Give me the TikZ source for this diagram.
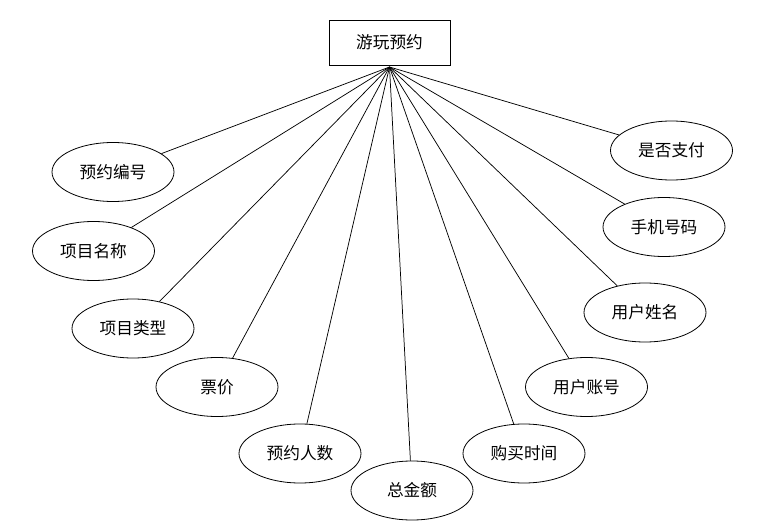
\documentclass[tikz,border=0pt]{standalone}
\usepackage{fontspec}
\setmainfont{Noto Sans CJK SC}
\usetikzlibrary{shapes.geometric}

\begin{document}
\begin{tikzpicture}[
  x=0.75pt, y=-0.75pt,
  entity/.style={draw, rectangle, minimum width=121*0.75pt, minimum height=45*0.75pt,
                 inner sep=0pt, line width=0.6pt, font=\fontsize{12.5}{15}\selectfont},
  attr/.style={draw, ellipse, minimum width=122*0.75pt, minimum height=59*0.75pt,
               inner sep=0pt, line width=0.6pt, font=\fontsize{12.5}{15}\selectfont},
  link/.style={line width=0.55pt, color=black},
]
\useasboundingbox (0,0) rectangle (772,528);

% === Entity ===
\node[entity] (visit) at (389.5,42.5) {游玩预约};
\coordinate (hub) at (389.5,67);

% === Attributes (left side) ===
\node[attr] (orderno)  at (113,172)   {预约编号};
\node[attr] (itemname) at (93.5,251)  {项目名称};
\node[attr] (itemtype) at (133,328.5) {项目类型};
\node[attr] (price)    at (217,387)   {票价};
\node[attr] (people)   at (300,453.5) {预约人数};

% === Attribute (bottom) ===
\node[attr] (total)    at (412,490.5) {总金额};

% === Attributes (right side) ===
\node[attr] (buytime)  at (524,453.5) {购买时间};
\node[attr] (account)  at (586.5,387) {用户账号};
\node[attr] (username) at (645,312.5) {用户姓名};
\node[attr] (phone)    at (664,227)   {手机号码};
\node[attr] (paid)     at (671.5,150.5) {是否支付};

% === Connectors ===
\foreach \a in {orderno, itemname, itemtype, price, people, total,
                buytime, account, username, phone, paid}
  \draw[link] (hub) -- (\a);

\end{tikzpicture}
\end{document}
